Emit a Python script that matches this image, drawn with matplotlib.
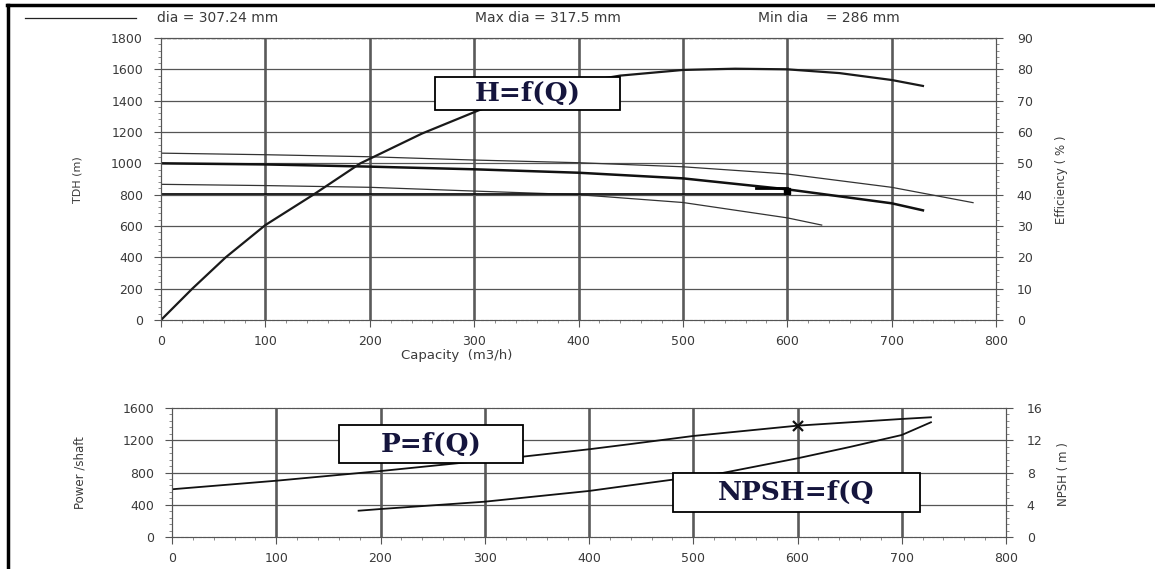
import matplotlib.pyplot as plt
from matplotlib.ticker import MultipleLocator
from matplotlib.lines import Line2D
from matplotlib.patches import Rectangle

W, H = 1155, 569

# --- data ---
# efficiency (%) vs capacity (m3/h), right axis of the top chart
eff_q = [0, 30, 62, 100, 146, 191, 250, 305, 350, 400, 440, 500, 550, 600, 650, 700, 730]
eff_v = [0, 10, 20, 30.3, 40, 50, 59.5, 67, 72, 75.8, 78, 79.8, 80.2, 80, 78.8, 76.6, 74.7]

# head curves TDH (m)
head_q = [0, 100, 200, 300, 400, 500, 600, 700, 730]
head_v = [1000, 993, 979, 962, 940, 904, 834, 745, 700]
head_max_q = [0, 100, 200, 300, 400, 500, 600, 700, 778]
head_max_v = [1065, 1055, 1042, 1021, 1004, 978, 932, 847, 749]
head_min_q = [0, 100, 200, 300, 400, 500, 600, 633]
head_min_v = [866, 858, 847, 823, 800, 750, 652, 606]

# operating point
op_q = [570, 600]
op_h = [843, 843]
op_pt_q, op_pt_h = 600, 825
sys_q = [0, 600]
sys_h = [806, 806]

# power / shaft and NPSH vs capacity
pow_q = [0, 100, 200, 336, 400, 440, 500, 600, 700, 728]
pow_v = [592, 698, 818, 996, 1088, 1153, 1253, 1381, 1464, 1485]
npsh_q = [179, 200, 300, 400, 430, 528, 600, 650, 700, 728]
npsh_v = [3.26, 3.47, 4.38, 5.71, 6.24, 7.94, 9.76, 11.16, 12.65, 14.23]
pow_mark_q, pow_mark_v = 600, 1381

q_ticks = [0, 100, 200, 300, 400, 500, 600, 700, 800]
tdh_ticks = [0, 200, 400, 600, 800, 1000, 1200, 1400, 1600, 1800]
eff_ticks = [0, 10, 20, 30, 40, 50, 60, 70, 80, 90]
pow_ticks = [0, 400, 800, 1200, 1600]
npsh_ticks = [0, 4, 8, 12, 16]

plt.rcParams['font.family'] = ['DejaVu Sans']
TXT = '#3a3a3a'
NARROW = ['Liberation Sans Narrow', 'DejaVu Sans']


def fx(x):
    return x / W


def fy(y):
    return 1 - y / H


def style(ax, axr, xminor, yminor, rminor):
    ax.set_xticks(q_ticks)
    ax.xaxis.set_minor_locator(MultipleLocator(xminor))
    ax.yaxis.set_minor_locator(MultipleLocator(yminor))
    axr.yaxis.set_minor_locator(MultipleLocator(rminor))
    for a in (ax, axr):
        a.tick_params(which='major', length=5, width=0.8, color='#555',
                      labelsize=9, labelcolor=TXT)
        a.tick_params(which='minor', length=2.5, width=0.6, color='#777')
        for s in a.spines.values():
            s.set_color('#555')
            s.set_linewidth(0.8)
    ax.spines['bottom'].set_linestyle((0, (2, 2)))
    ax.tick_params(axis='x', pad=6)
    ax.tick_params(axis='y', pad=8)
    axr.tick_params(axis='y', pad=10)
    ax.grid(False)
    for q in q_ticks[1:-1]:
        ax.axvline(q, color='#5a5a5a', lw=1.9, zorder=0.5)


fig = plt.figure(figsize=(11.55, 5.69), dpi=100)

# ---------- top chart ----------
ax = fig.add_axes([fx(161), fy(320), (996 - 161) / W, (320 - 38) / H])
axr = ax.twinx()
ax.set_xlim(0, 800)
ax.set_ylim(0, 1800)
axr.set_ylim(0, 90)
ax.set_yticks(tdh_ticks)
axr.set_yticks(eff_ticks)
style(ax, axr, 20, 40, 2)
for t in tdh_ticks[1:-1]:
    ax.axhline(t, color='#555', lw=0.9, zorder=0.5)
ax.axhline(1800, color='#444', lw=1.0, ls=(0, (3, 1)))

ax.plot(head_max_q, head_max_v, color='#333', lw=0.9)
ax.plot(head_min_q, head_min_v, color='#333', lw=0.9)
ax.plot(head_q, head_v, color='#111', lw=1.8)
ax.plot(sys_q, sys_h, color='#111', lw=1.3)
ax.plot(op_q, op_h, color='#000', lw=2.0)
ax.plot([op_pt_q], [op_pt_h], marker='s', ms=5, color='#000')
axr.plot(eff_q, eff_v, color='#1a1a1a', lw=1.6)

# ---------- bottom chart ----------
ax2 = fig.add_axes([fx(172), fy(537), (1006 - 172) / W, (537 - 408) / H])
ax2r = ax2.twinx()
ax2.set_xlim(0, 800)
ax2.set_ylim(0, 1600)
ax2r.set_ylim(0, 16)
ax2.set_yticks(pow_ticks)
ax2r.set_yticks(npsh_ticks)
style(ax2, ax2r, 20, 80, 0.8)
for t in pow_ticks[1:-1]:
    ax2.axhline(t, color='#555', lw=0.9, zorder=0.5)
ax2.spines['top'].set_linestyle((0, (2, 2)))

ax2.plot(pow_q, pow_v, color='#111', lw=1.3)
ax2.plot([pow_mark_q], [pow_mark_v], marker='x', ms=7, mew=1.6, color='#111')
ax2r.plot(npsh_q, npsh_v, color='#111', lw=1.3)

# ---------- labels ----------
fig.text(fx(77), fy(180), 'TDH (m)', rotation=90, ha='center', va='center',
         fontsize=8, color=TXT)
fig.text(fx(1062), fy(180), 'Efficiency ( % )', rotation=90, ha='center',
         va='center', fontsize=8.5, color=TXT, family=NARROW)
fig.text(fx(457), fy(355), 'Capacity  (m3/h)', ha='center', va='center',
         fontsize=9.5, color=TXT)
fig.text(fx(80), fy(473), 'Power /shaft', rotation=90, ha='center', va='center',
         fontsize=8.5, color=TXT, family=NARROW)
fig.text(fx(1063), fy(474), 'NPSH ( m )', rotation=90, ha='center', va='center',
         fontsize=8.5, color=TXT, family=NARROW)

# header
fig.add_artist(Line2D([fx(25), fx(136)], [fy(18), fy(18)], color='#222', lw=0.9))
fig.text(fx(157), fy(18), 'dia = 307.24 mm', ha='left', va='center',
         fontsize=10, color=TXT)
fig.text(fx(475), fy(18), 'Max dia = 317.5 mm', ha='left', va='center',
         fontsize=10, color=TXT)
fig.text(fx(758), fy(18), 'Min dia    = 286 mm', ha='left', va='center',
         fontsize=10, color=TXT)

# annotation boxes
NAVY = '#15153d'
boxes = [((435, 77, 620, 110), 'H=f(Q)'),
         ((339, 425, 523, 463), 'P=f(Q)'),
         ((673, 473, 920, 512), 'NPSH=f(Q')]
for (x0, y0, x1, y1), label in boxes:
    fig.add_artist(Rectangle((fx(x0), fy(y1)), (x1 - x0) / W, (y1 - y0) / H,
                             transform=fig.transFigure, facecolor='white',
                             edgecolor='black', lw=1.3, zorder=5))
    fig.text(fx((x0 + x1) / 2), fy((y0 + y1) / 2), label, ha='center',
             va='center', fontsize=19, fontweight='bold', family='DejaVu Serif',
             color=NAVY, zorder=6)

# outer frame (top and left edges)
fig.add_artist(Line2D([fx(7), 1], [fy(5), fy(5)], color='black', lw=2.5))
fig.add_artist(Line2D([fx(8), fx(8)], [fy(5), 0], color='black', lw=2.5))

fig.savefig('out.png', dpi=100)
